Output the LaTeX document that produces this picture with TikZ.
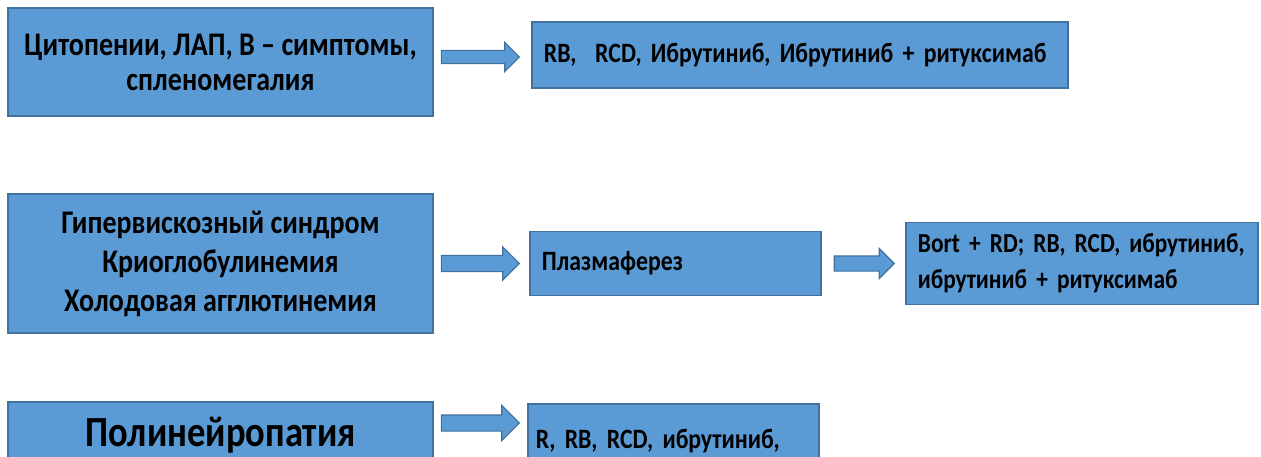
\documentclass[tikz,border=0pt]{standalone}
\usepackage{fontspec}
\setmainfont{Carlito}[FakeStretch=0.85]
\usetikzlibrary{positioning,shapes.arrows}
\definecolor{boxfill}{HTML}{5B9BD5}
\definecolor{boxline}{HTML}{41719C}
\tikzset{
  casebox/.style={draw=boxline, fill=boxfill, line width=1.5pt,
    minimum width=425pt, align=center, inner sep=0pt,
    font=\bfseries\fontsize{33}{35}\selectfont},
  therapy/.style={draw=boxline, fill=boxfill, line width=1.5pt,
    align=left, inner xsep=12pt, inner ysep=0pt,
    font=\bfseries\fontsize{28}{36}\selectfont},
  blockarrow/.style={single arrow, draw=boxline, fill=boxfill,
    line width=1.2pt, inner xsep=0pt, text height=0pt, text depth=0pt,
    minimum height=78pt}
}

\begin{document}
\begin{tikzpicture}[x=1pt, y=-1pt]
  \useasboundingbox (0,0) rectangle (1261,457);
  \clip (0,0) rectangle (1261,457);

  % first row
  \node[casebox, minimum height=108pt] (cyto) at (220.5,62)
    {Цитопении, ЛАП, В – симптомы,\\спленомегалия};
  \node[blockarrow, inner ysep=6pt, single arrow head extend=8pt,
        right=7pt of cyto, yshift=5pt] (ar1) {};
  \node[therapy, minimum width=536pt, minimum height=66pt, text width=512pt,
        right=11pt of ar1, yshift=2pt] (rb)
    {RB,\ \ RCD, Ибрутиниб, Ибрутиниб + ритуксимаб};

  % second row
  \node[casebox, minimum height=139pt, font=\bfseries\fontsize{33}{39}\selectfont]
    (hyper) at (220.5,263.5)
    {Гипервискозный синдром\\Криоглобулинемия\\Холодовая агглютинемия};
  \node[blockarrow, inner ysep=7.5pt, single arrow head extend=8.5pt,
        right=7pt of hyper] (ar2) {};
  \node[therapy, minimum width=291pt, minimum height=64pt, text width=267pt,
        right=9pt of ar2] (plasma) {Плазмаферез};
  \node[blockarrow, minimum height=60pt, inner ysep=7pt,
        single arrow head extend=7.5pt, right=12pt of plasma] (ar3) {};
  \node[therapy, minimum width=352pt, minimum height=82pt, text width=328pt,
        font=\bfseries\fontsize{27.5}{36}\selectfont, right=10pt of ar3] (bort)
    {\mbox{Bort + RD; RB, RCD, ибрутиниб,}\\ибрутиниб + ритуксимаб};

  % third row
  \node[casebox, minimum height=70pt, text height=44pt, text depth=26pt,
        font=\bfseries\fontsize{43}{50}\selectfont]
    (neuro) at (220.5,437) {Полинейропатия};
  \node[blockarrow, inner ysep=7.5pt, single arrow head extend=9.5pt,
        right=7pt of neuro, yshift=14pt] (ar4) {};
  \node[therapy, minimum width=291pt, minimum height=90pt, text width=275pt,
        inner xsep=8pt, text height=44pt, text depth=46pt,
        right=7pt of ar4, yshift=-26pt]
    (rrb) {R, RB, RCD, ибрутиниб,};
\end{tikzpicture}
\end{document}
